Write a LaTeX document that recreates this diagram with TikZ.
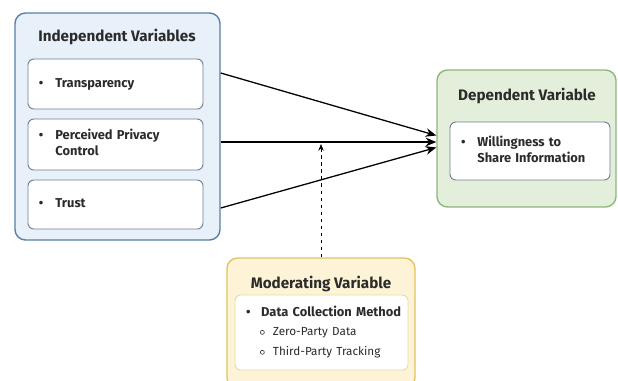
\documentclass[tikz,border=0pt]{standalone}
\usepackage{fontspec}
\setmainfont{Fira Sans}
\usepackage{tikz}
\usetikzlibrary{arrows.meta,positioning,calc}
\definecolor{VarBlueFill}{HTML}{E8F1FA}
\definecolor{VarBlueLine}{HTML}{5A7EA8}
\definecolor{VarItemLine}{HTML}{6E7F92}
\definecolor{VarGreenFill}{HTML}{E3EFDB}
\definecolor{VarGreenLine}{HTML}{8DB77B}
\definecolor{VarGoldFill}{HTML}{FDF3D6}
\definecolor{VarGoldLine}{HTML}{E5C25E}
\definecolor{VarGoldItem}{HTML}{EAD9A2}
\definecolor{VarText}{HTML}{2B2B2B}
\newcommand{\subdot}{\raisebox{0.2ex}{\tikz\draw[line width=0.5pt] (0,0) circle (1.7pt);}}

\begin{document}
\begin{tikzpicture}[x=0.03cm,y=-0.03cm,
    group/.style={rounded corners=9pt,line width=1.2pt},
    item/.style={rounded corners=5pt,draw=VarItemLine,fill=white,line width=0.8pt,align=left,inner xsep=0.33cm,text=VarText,font=\bfseries\fontsize{11}{14}\selectfont},
    heading/.style={text=VarText,font=\bfseries\fontsize{13}{15}\selectfont},
    arr/.style={-{Stealth[length=3.2mm,width=2.6mm]},line width=1.1pt},
    modarr/.style={-{Stealth[length=2mm,width=1.6mm]},line width=0.8pt,dashed}
  ]
    \fill[white] (0,0) rectangle (618,380);
    \useasboundingbox (0,0) rectangle (618,380);
    \clip (0,0) rectangle (618,380);

    % independent variables
    \node[group,draw=VarBlueLine,fill=VarBlueFill,minimum width=6.15cm,minimum height=6.81cm] (indep) at (117.5,126.5) {};
    \node[heading] (indepttl) at (117,37) {Independent Variables};
    \node[item,text width=4.59cm,minimum height=1.5cm] (trans) at (115.5,84) {\begin{tabular}{@{}p{14pt}@{}l@{}}\textbullet & Transparency\end{tabular}};
    \node[item,text width=4.59cm,minimum height=1.53cm] (ppc) at (115.5,144.5) {\begin{tabular}{@{}p{14pt}@{}l@{}}\textbullet & Perceived Privacy\\ & Control\end{tabular}};
    \node[item,text width=4.59cm,minimum height=1.47cm] (trust) at (115.5,204.5) {\begin{tabular}{@{}p{14pt}@{}l@{}}\textbullet & Trust\end{tabular}};

    % dependent variable
    \node[group,draw=VarGreenLine,fill=VarGreenFill,minimum width=5.37cm,minimum height=4.11cm] (dep) at (526.5,138.5) {};
    \node[heading] (depttl) at (527,96) {Dependent Variable};
    \node[item,text width=4.14cm,minimum height=1.74cm] (will) at (530,151) {\begin{tabular}{@{}p{14pt}@{}l@{}}\textbullet & Willingness to\\ & Share Information\end{tabular}};

    % moderating variable
    \node[group,draw=VarGoldLine,fill=VarGoldFill,minimum width=5.64cm,minimum height=3.9cm] (mod) at (321,323) {};
    \node[heading] (modttl) at (321,284) {Moderating Variable};
    \node[item,draw=VarGoldItem,text width=4.53cm,minimum height=2.25cm] (dcm) at (321.5,332.5) {\begin{tabular}{@{}p{13pt}@{}l@{}}\textbullet & Data Collection Method\end{tabular}\\[3pt]
      {\mdseries\fontsize{10}{12}\selectfont\begin{tabular}{@{\hspace{12pt}}p{11pt}@{}l@{}}\subdot & Zero-Party Data\\[5pt] \subdot & Third-Party Tracking\end{tabular}}};

    % effects
    \draw[arr] ($(indep.east)+(0,-53.5)$) -- ($(dep.west)+(0,-3)$);
    \draw[arr] ($(indep.east)+(0,15.5)$) -- ($(dep.west)+(0,3.5)$);
    \draw[arr] ($(indep.east)+(0,81.5)$) -- ($(dep.west)+(0,9)$);
    \coordinate (meet) at (321,144);
    \draw[modarr] (mod.north) -- (meet);
\end{tikzpicture}
\end{document}
